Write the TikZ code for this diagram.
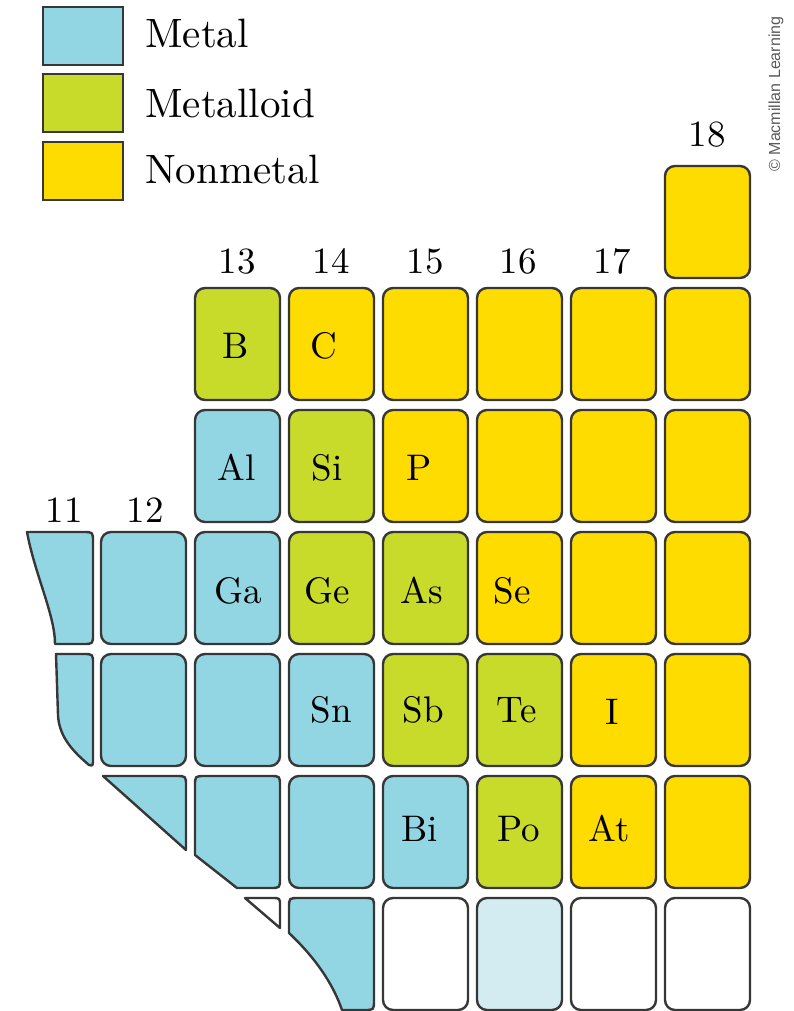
\documentclass[tikz,border=0pt]{standalone}
\usepackage{fontspec}
\setmainfont{lmroman10-regular.otf}
\newfontfamily\creditfont{Liberation Sans}
\definecolor{metal}{RGB}{147,214,227}
\definecolor{metalloid}{RGB}{200,218,42}
\definecolor{nonmetal}{RGB}{255,220,0}
\definecolor{pale}{RGB}{211,236,242}
\definecolor{edge}{RGB}{55,55,55}
\definecolor{credit}{RGB}{90,90,90}
\begin{document}
\begin{tikzpicture}[x=1pt,y=-1pt,
  cellbox/.style={draw=edge, line width=2.4pt, rounded corners=10pt,
    minimum width=85pt, minimum height=112pt, inner sep=0pt},
  torn/.style={draw=edge, line width=2.4pt, line join=round},
  keybox/.style={draw=edge, line width=2.4pt, minimum width=80pt,
    minimum height=58pt, inner sep=0pt},
  keytext/.style={anchor=base west, inner sep=0pt, font=\fontsize{41}{46}\selectfont},
  group/.style={anchor=base, inner sep=0pt, font=\fontsize{37}{40}\selectfont},
  elem/.style={inner sep=0pt, text height=25pt, text depth=0pt,
    font=\fontsize{37}{40}\selectfont}]
\useasboundingbox (0,0) rectangle (794,1011);

% legend
\node[keybox, fill=metal]     (kMetal)     at (83,36)  {};
\node[keybox, fill=metalloid] (kMetalloid) at (83,103) {};
\node[keybox, fill=nonmetal]  (kNonmetal)  at (83,171) {};
\node[keytext] (tMetal)     at (145,48)  {Metal};
\node[keytext] (tMetalloid) at (145,118) {Metalloid};
\node[keytext] (tNonmetal)  at (145,184) {Nonmetal};

% credit line
\node[rotate=90, inner sep=0pt, text=credit,
  font=\creditfont\fontsize{16}{17}\selectfont] (credit) at (776,94)
  {\textcopyright\ Macmillan Learning};

% full cells: column/row/fill
\foreach \c/\r/\f in {
  18/1/nonmetal,
  13/2/metalloid, 14/2/nonmetal, 15/2/nonmetal, 16/2/nonmetal, 17/2/nonmetal, 18/2/nonmetal,
  13/3/metal, 14/3/metalloid, 15/3/nonmetal, 16/3/nonmetal, 17/3/nonmetal, 18/3/nonmetal,
  12/4/metal, 13/4/metal, 14/4/metalloid, 15/4/metalloid, 16/4/nonmetal, 17/4/nonmetal, 18/4/nonmetal,
  12/5/metal, 13/5/metal, 14/5/metal, 15/5/metalloid, 16/5/metalloid, 17/5/nonmetal, 18/5/nonmetal,
  14/6/metal, 15/6/metal, 16/6/metalloid, 17/6/nonmetal, 18/6/nonmetal,
  15/7/white, 16/7/pale, 17/7/white, 18/7/white}
  \node[cellbox, fill=\f] (c\c-\r) at ({237.5+94*(\c-13)}, {344+122*(\r-2)}) {};

% torn cells along the left edge
\draw[torn, fill=metal] (27,532) -- (83,532) .. controls (93,532) .. (93,542)
  -- (93,634) .. controls (93,644) .. (83,644) -- (55,644)
  .. controls (55,615) and (35,575) .. (27,532) -- cycle;
\draw[torn, fill=metal] (56,654) -- (83,654) .. controls (93,654) .. (93,664)
  -- (93,758) .. controls (93,766) .. (89,765)
  .. controls (75,753) and (59,738) .. (58,715) -- cycle;
\draw[torn, fill=metal] (103,776) -- (176,776) .. controls (186,776) .. (186,786)
  -- (186,850) -- cycle;
\draw[torn, fill=metal] (195,786) .. controls (195,776) .. (205,776) -- (270,776)
  .. controls (280,776) .. (280,786) -- (280,878) .. controls (280,888) .. (270,888)
  -- (237,888) -- (195,855) -- cycle;
\draw[torn, fill=white] (245,898) -- (272,898) .. controls (280,898) .. (280,906)
  -- (280,928) -- cycle;
\draw[torn, fill=metal] (289,908) .. controls (289,898) .. (299,898) -- (364,898)
  .. controls (374,898) .. (374,908) -- (374,1000) .. controls (374,1010) .. (364,1010)
  -- (342,1010) .. controls (330,975) and (305,948) .. (289,933) -- cycle;

% group numbers
\foreach \n/\x/\y in {11/64/522, 12/145/522, 13/237/273, 14/331/273,
  15/425/273, 16/518/273, 17/612/273, 18/707/147}
  \node[group] (g\n) at (\x,\y) {\n};

% element symbols
\foreach \t/\x/\y in {B/236/346, C/324/346, Al/237/468, Si/327/468, P/419/468,
  Ga/238/591, Ge/327/591, As/422/591, Se/512/591,
  Sn/331/710, Sb/423/710, Te/517/710, I/612/712,
  Bi/420/829, Po/519/829, At/609/829}
  \node[elem] (e\t) at (\x,\y) {\t};
\end{tikzpicture}
\end{document}
